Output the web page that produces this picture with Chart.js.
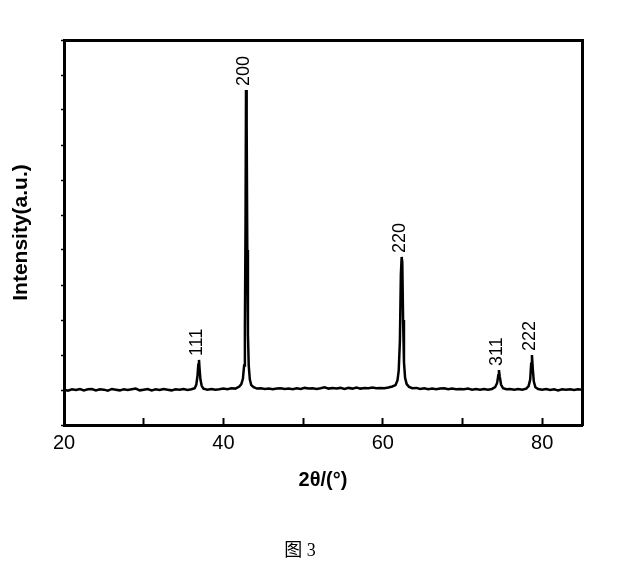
<!DOCTYPE html>
<html>
<head>
<meta charset="utf-8">
<script src="https://cdn.jsdelivr.net/npm/chart.js@4"></script>
<style>
  body { margin: 0; background: #fff; }
  #wrap { position: relative; width: 637px; height: 585px; }
  #caption {
    position: absolute; left: 0; width: 600px; top: 535px;
    text-align: center; font: 18px "Liberation Serif", "Noto Sans CJK SC", serif; color: #000;
  }
</style>
</head>
<body>
<div id="wrap">
  <canvas id="xrd" width="637" height="585"></canvas>
  <div id="caption">图 3</div>
</div>
<script>
// XRD pattern
const twoTheta = [
    20.0, 20.5, 21.0, 21.5, 22.0, 22.5, 23.0, 23.5, 24.0, 24.5, 25.0, 25.5, 26.0, 26.5, 27.0, 27.5,
    28.0, 28.5, 29.0, 29.5, 30.0, 30.5, 31.0, 31.5, 32.0, 32.5, 33.0, 33.5, 34.0, 34.5, 35.0, 35.5,
    36.0, 36.4, 36.6, 36.75, 36.85, 36.94, 37.02, 37.12, 37.28, 37.5, 38.0, 38.5, 39.0, 39.5, 40.0,
    40.5, 41.0, 41.5, 42.0, 42.25, 42.45, 42.6, 42.7, 42.78, 42.84, 42.92, 43.0, 43.08, 43.18, 43.32,
    43.5, 43.8, 44.2, 44.7, 45.2, 45.7, 46.2, 46.7, 47.2, 47.7, 48.2, 48.7, 49.2, 49.7, 50.2, 50.7,
    51.2, 51.7, 52.2, 52.7, 53.2, 53.7, 54.2, 54.7, 55.2, 55.7, 56.2, 56.7, 57.2, 57.7, 58.2, 58.7,
    59.2, 59.7, 60.2, 60.7, 61.2, 61.6, 61.85, 62.0, 62.15, 62.27, 62.37, 62.45, 62.55, 62.66, 62.8,
    63.0, 63.3, 63.7, 64.2, 64.7, 65.2, 65.7, 66.2, 66.7, 67.2, 67.7, 68.2, 68.7, 69.2, 69.7, 70.2,
    70.7, 71.2, 71.7, 72.2, 72.7, 73.2, 73.7, 74.1, 74.35, 74.5, 74.58, 74.68, 74.85, 75.1, 75.5,
    76.0, 76.5, 77.0, 77.5, 78.0, 78.3, 78.5, 78.62, 78.72, 78.82, 78.95, 79.15, 79.5, 80.0, 80.5,
    81.0, 81.5, 82.0, 82.5, 83.0, 83.5, 84.0, 84.5, 85.0
]
const intensity = [
    1, -2, 2, 0, 3, -1, 2, 3, -1, 2, 1, -2, 3, 1, -1, 2,
    0, 2, 4, -1, 1, 3, -1, 2, 0, 3, 1, -1, 2, 1, 3, 0,
    2, 5, 15, 40, 72, 86, 58, 30, 12, 4, 1, 3, 1, 2, 4,
    2, 5, 4, 10, 17, 32, 70, 180, 480, 857, 760, 400, 160, 70, 30,
    14, 8, 4, 5, 3, 4, 2, 4, 5, 3, 4, 2, 5, 3, 6, 4,
    5, 3, 5, 8, 4, 6, 4, 6, 3, 6, 4, 7, 4, 6, 5, 7,
    5, 6, 5, 7, 10, 14, 28, 55, 140, 330, 380, 365, 200, 80, 35,
    17, 9, 5, 6, 3, 5, 2, 4, 2, 4, 5, 2, 4, 2, 3, 2,
    4, 1, 3, 1, 3, 1, 3, 8, 20, 42, 57, 38, 15, 5, 2,
    3, 1, 3, 1, 4, 11, 30, 75, 100, 62, 25, 8, 3, 1, 3,
    0, 2, -1, 2, 1, 2, 0, 2, 1
]

// reflections (hkl) and where their labels sit
const peakLabels = ['111', '200', '220', '311', '222']
const peakPos = [36.94, 42.84, 62.37, 74.58, 78.72]
const peakTop = [86, 857, 380, 57, 100]

const xTickLabels = [20, 40, 60, 80]

const black = '#000'
const sans = 'Liberation Sans'

const peakLabelPlugin = {
    id: 'peakLabels',
    afterDatasetsDraw(chart) {
        const { ctx, scales: { x, y } } = chart
        ctx.save()
        ctx.font = `18px "${sans}"`
        ctx.fillStyle = black
        ctx.textAlign = 'left'
        ctx.textBaseline = 'middle'
        peakLabels.forEach((label, i) => {
            ctx.save()
            ctx.translate(x.getPixelForValue(peakPos[i]) - 2, y.getPixelForValue(peakTop[i]) - 4)
            ctx.rotate(-Math.PI / 2)
            ctx.fillText(label, 0, 0)
            ctx.restore()
        })
        ctx.restore()
    }
}

new Chart(document.getElementById('xrd'), {
    type: 'line',
    data: {
        datasets: [{
            data: twoTheta.map((t, i) => ({ x: t, y: intensity[i] })),
            borderColor: black,
            borderWidth: 2.5,
            pointRadius: 0,
            tension: 0,
            xAxisID: 'x',
            yAxisID: 'y'
        }]
    },
    options: {
        responsive: false,
        animation: false,
        layout: { padding: 0 },
        plugins: {
            legend: { display: false },
            tooltip: { enabled: false }
        },
        scales: {
            x: {
                type: 'linear',
                position: 'bottom',
                min: 20,
                max: 85,
                afterFit: s => { s.height = 160 },
                afterBuildTicks: s => { s.ticks = s.ticks.filter(t => t.value % 10 === 0) },
                ticks: {
                    stepSize: 10,
                    padding: 13,
                    maxRotation: 0,
                    autoSkip: false,
                    color: black,
                    font: { family: sans, size: 20 },
                    callback: v => xTickLabels.includes(v) ? String(v) : ''
                },
                grid: { drawOnChartArea: false, tickLength: -7, tickWidth: 2, tickColor: black },
                border: { color: black, width: 3 },
                title: {
                    display: true,
                    text: '2θ/(°)',
                    color: black,
                    font: { family: sans, size: 20, weight: 'bold' },
                    padding: { bottom: 93 }
                }
            },
            y: {
                type: 'linear',
                position: 'left',
                min: -100,
                max: 1000,
                afterFit: s => { s.width = 64 },
                ticks: { stepSize: 100, display: false },
                grid: { drawOnChartArea: false, tickLength: 3, tickWidth: 1.5, tickColor: black },
                border: { color: black, width: 3 },
                title: {
                    display: true,
                    text: 'Intensity(a.u.)',
                    color: black,
                    font: { family: sans, size: 21, weight: 'bold' },
                    padding: { top: 9 }
                }
            },
            x2: {
                type: 'linear',
                position: 'top',
                min: 20,
                max: 85,
                afterFit: s => { s.height = 40 },
                ticks: { display: false },
                grid: { drawOnChartArea: false, drawTicks: false },
                border: { color: black, width: 3 }
            },
            y2: {
                type: 'linear',
                position: 'right',
                min: -100,
                max: 1000,
                afterFit: s => { s.width = 55 },
                ticks: { display: false },
                grid: { drawOnChartArea: false, drawTicks: false },
                border: { color: black, width: 3 }
            }
        }
    },
    plugins: [peakLabelPlugin]
})
</script>
</body>
</html>
